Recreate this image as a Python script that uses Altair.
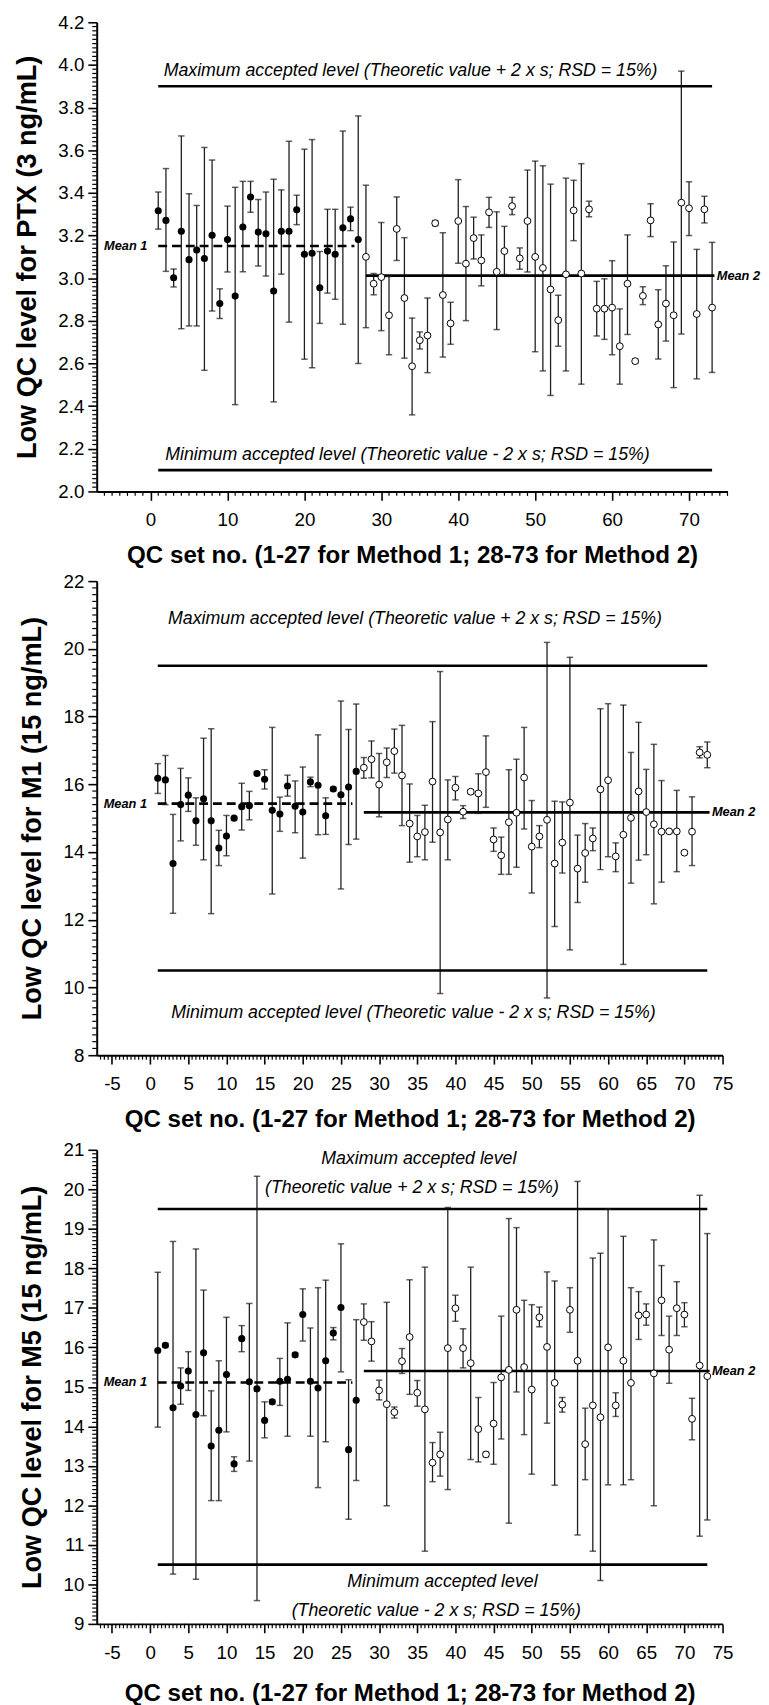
import altair as alt
import pandas as pd
import numpy as np

# ---------------- data ----------------
qc_set = list(range(1, 74))

ptx_mean = [3.316, 3.271, 3.002, 3.220, 3.087, 3.132, 3.092, 3.201, 2.881, 3.181,
            2.916, 3.240, 3.381, 3.216, 3.208, 2.940, 3.220, 3.220, 3.321, 3.112,
            3.117, 2.955, 3.127, 3.112, 3.236, 3.278, 3.181, 3.100, 2.974, 3.005,
            2.826, 3.231, 2.907, 2.587, 2.709, 2.731, 3.258, 2.921, 2.788, 3.268,
            3.068, 3.188, 3.083, 3.309, 3.030, 3.127, 3.338, 3.093, 3.268, 3.100,
            3.048, 2.947, 2.803, 3.018, 3.318, 3.022, 3.323, 2.857, 2.857, 2.862,
            2.681, 2.974, 2.611, 2.917, 3.271, 2.783, 2.881, 2.826, 3.354, 3.328,
            2.832, 3.323, 2.862]
ptx_low = [3.230, 3.032, 2.959, 2.763, 2.776, 2.776, 2.568, 2.846, 2.811, 3.029,
           2.407, 3.030, 3.309, 3.057, 3.010, 2.420, 3.019, 2.794, 3.251, 2.620,
           2.580, 2.788, 2.930, 2.901, 2.784, 3.223, 2.600, 2.768, 2.922, 2.754,
           2.641, 3.083, 2.625, 2.359, 2.668, 2.557, 3.246, 2.630, 2.690, 3.070,
           2.801, 3.090, 2.964, 3.238, 2.759, 3.017, 3.298, 3.042, 3.029, 2.655,
           2.565, 2.450, 2.681, 2.565, 3.176, 2.503, 3.288, 2.729, 2.713, 2.641,
           2.503, 2.736, 2.601, 2.876, 3.195, 2.621, 2.705, 2.487, 2.738, 3.200,
           2.528, 3.259, 2.558]
ptx_high = [3.404, 3.514, 3.043, 3.667, 3.396, 3.341, 3.613, 3.554, 2.950, 3.338,
            3.426, 3.454, 3.454, 3.369, 3.404, 3.464, 3.414, 3.642, 3.389, 3.605,
            3.650, 3.125, 3.323, 3.323, 3.690, 3.333, 3.761, 3.436, 3.022, 3.261,
            3.008, 3.381, 3.190, 2.813, 2.748, 2.907, 3.270, 3.213, 2.887, 3.462,
            3.336, 3.286, 3.203, 3.379, 3.311, 3.243, 3.379, 3.142, 3.507, 3.549,
            3.527, 3.441, 2.920, 3.469, 3.459, 3.537, 3.361, 2.985, 2.997, 3.082,
            2.856, 3.203, 2.621, 2.960, 3.349, 2.946, 3.058, 3.170, 3.971, 3.452,
            3.135, 3.384, 3.168]

m1_mean = [16.18, 16.13, 13.66, 15.40, 15.68, 14.92, 15.57, 14.92, 14.12, 14.47,
           15.00, 15.34, 15.37, 16.32, 16.15, 15.23, 15.12, 15.95, 15.35, 15.18,
           16.07, 15.97, 15.07, 15.86, 15.69, 15.92, 16.38, 16.49, 16.74, 15.99,
           16.65, 16.98, 16.26, 14.84, 14.46, 14.59, 16.08, 14.58, 14.96, 15.90,
           15.19, 15.78, 15.73, 16.36, 14.37, 13.90, 14.88, 15.16, 16.20, 14.16,
           14.46, 14.95, 13.66, 14.28, 15.46, 13.51, 13.97, 14.40, 15.85, 16.12,
           13.87, 14.51, 15.01, 15.79, 15.18, 14.82, 14.60, 14.61, 14.61, 13.98,
           14.60, 16.94, 16.87]
m1_low = [15.73, 15.40, 12.19, 14.33, 15.20, 14.20, 13.77, 12.18, 13.60, 13.89,
          14.95, 14.65, 14.95, 16.27, 15.86, 12.76, 14.61, 15.65, 14.57, 13.82,
          15.93, 14.51, 14.52, 15.81, 12.91, 14.22, 14.38, 16.18, 16.19, 15.04,
          16.20, 16.33, 14.78, 13.70, 13.86, 13.77, 14.29, 9.82, 13.77, 15.54,
          14.99, 15.72, 15.14, 15.32, 14.02, 13.34, 13.34, 13.55, 14.68, 12.79,
          14.13, 9.69, 11.80, 13.38, 11.11, 12.51, 13.11, 14.04, 13.48, 13.86,
          13.42, 10.68, 13.08, 13.76, 13.92, 12.47, 13.11, 14.56, 13.42, 13.93,
          13.60, 16.78, 16.49]
m1_high = [16.61, 16.85, 15.11, 16.47, 16.19, 15.60, 17.36, 17.64, 14.64, 15.08,
           15.05, 16.03, 15.79, 16.37, 16.43, 17.68, 15.62, 16.27, 16.10, 16.51,
           16.21, 17.46, 15.60, 15.91, 18.46, 17.62, 18.37, 16.79, 17.28, 16.91,
           17.07, 17.63, 17.74, 16.01, 15.08, 15.38, 17.85, 19.33, 16.13, 16.23,
           15.37, 15.84, 16.31, 17.43, 14.71, 14.44, 16.43, 16.74, 17.68, 15.52,
           14.78, 20.19, 15.50, 15.48, 19.75, 14.50, 14.84, 14.71, 18.23, 18.38,
           14.27, 18.34, 16.94, 17.83, 16.44, 17.18, 16.11, 14.66, 15.82, 14.03,
           15.63, 17.11, 17.25]

m5_mean = [15.92, 16.05, 14.47, 15.02, 15.40, 14.30, 15.86, 13.50, 13.90, 15.31,
           13.05, 16.22, 15.13, 14.95, 14.15, 14.62, 15.14, 15.19, 15.81, 16.83,
           15.14, 14.97, 15.66, 16.36, 17.01, 13.41, 14.66, 16.64, 16.15, 14.91,
           14.56, 14.36, 15.65, 16.26, 14.85, 14.43, 13.08, 13.29, 15.98, 16.99,
           15.98, 15.60, 13.93, 13.29, 14.07, 15.24, 15.43, 16.95, 15.50, 14.93,
           16.76, 16.01, 15.10, 14.55, 16.95, 15.66, 13.55, 14.53, 14.23, 16.00,
           14.53, 15.66, 15.10, 16.81, 16.83, 15.34, 17.19, 15.94, 16.99, 16.83,
           14.19, 15.54, 15.27]
m5_low = [13.98, 16.00, 10.26, 14.56, 14.91, 10.13, 14.27, 12.12, 12.12, 13.86,
          12.86, 15.89, 13.12, 9.59, 13.71, 14.57, 14.53, 13.75, 15.76, 16.16,
          13.75, 12.45, 13.61, 16.19, 15.38, 11.65, 12.63, 16.18, 15.65, 14.67,
          11.99, 14.21, 15.34, 14.81, 14.51, 10.84, 12.60, 12.74, 12.40, 16.66,
          15.48, 13.16, 13.10, 13.23, 13.04, 13.68, 11.55, 14.87, 13.79, 12.79,
          16.52, 14.08, 12.51, 14.36, 16.38, 11.25, 12.65, 10.84, 10.10, 12.52,
          14.25, 12.52, 12.65, 16.20, 16.56, 11.99, 16.30, 15.09, 16.30, 16.52,
          13.66, 11.22, 11.63]
m5_high = [17.90, 16.10, 18.68, 15.48, 15.89, 18.49, 17.45, 14.90, 15.66, 16.76,
           13.23, 16.55, 17.11, 20.33, 14.62, 14.67, 15.72, 16.62, 15.86, 17.48,
           16.49, 17.51, 17.70, 16.50, 18.62, 15.18, 16.70, 17.10, 16.65, 15.17,
           17.14, 14.49, 15.97, 17.71, 15.16, 18.03, 13.59, 13.85, 19.54, 17.32,
           16.47, 18.03, 14.73, 13.35, 15.11, 16.79, 19.26, 19.03, 17.19, 17.08,
           17.02, 17.91, 17.68, 14.73, 17.51, 20.20, 14.46, 18.26, 18.38, 19.50,
           14.85, 18.81, 17.51, 17.41, 17.10, 18.72, 18.07, 16.79, 17.66, 17.13,
           14.71, 19.85, 18.88]

# means of each method and accepted limits (theoretic value +/- 30 %)
ptx_means = [3.151, 3.012]
m1_means = [15.43, 15.17]
m5_means = [15.11, 15.40]
ptx_limits = [3.9, 2.1]
m1_limits = [19.5, 10.5]
m5_limits = [19.5, 10.5]

MAX_TXT = "Maximum accepted level (Theoretic value + 2 x s; RSD = 15%)"
MIN_TXT = "Minimum accepted level (Theoretic value - 2 x s; RSD = 15%)"
X_TITLE = "QC set no. (1-27 for Method 1; 28-73 for Method 2)"

FONT = "Liberation Sans"
ERR = "#1e1e1e"


def panel(mean, low, high, means, limits, ydom, ymaj, ydec, yminor, xmaj, xminor,
          ytitle, notes, W, H, xtitle_pad=14):
    df = pd.DataFrame({"n": qc_set, "v": mean, "lo": low, "hi": high})
    df["method"] = np.where(df["n"] <= 27, "Method 1", "Method 2")
    xs = alt.Scale(domain=[-7, 75], nice=False, zero=False)
    ys = alt.Scale(domain=ydom, nice=False, zero=False)
    base = alt.Chart(df)

    xax = alt.Axis(values=xmaj, title=X_TITLE,
                   labelExpr="datum.value < 0 ? '-' + abs(datum.value) : '' + datum.value",
                   labelFlush=False, labelOverlap=False, labelPadding=11,
                   titlePadding=xtitle_pad, titleFontSize=24.5, tickSize=9)
    yax = alt.Axis(values=ymaj, title=ytitle,
                   labelExpr="format(datum.value, '.%df')" % ydec,
                   labelPadding=4, titlePadding=17, titleFontSize=27.5, tickSize=9,
                   labelOverlap=False)

    def X(f):
        return alt.X(f, scale=xs, axis=xax)

    def Y(f):
        return alt.Y(f, scale=ys, axis=yax)

    bars = base.mark_rule(color=ERR, strokeWidth=1.3).encode(
        x=X("n:Q"), y=Y("lo:Q"), y2="hi:Q")
    cap_lo = base.mark_tick(orient="horizontal", color=ERR, size=6.5, thickness=1.5).encode(
        x=X("n:Q"), y=Y("lo:Q"))
    cap_hi = base.mark_tick(orient="horizontal", color=ERR, size=6.5, thickness=1.5).encode(
        x=X("n:Q"), y=Y("hi:Q"))

    filled = base.transform_filter(alt.datum.method == "Method 1").mark_point(
        shape="circle", filled=True, color="black", size=52, opacity=1).encode(
        x=X("n:Q"), y=Y("v:Q"))
    hollow = base.transform_filter(alt.datum.method == "Method 2").mark_point(
        shape="circle", filled=True, fill="white", stroke="black", strokeWidth=1,
        size=48, opacity=1).encode(x=X("n:Q"), y=Y("v:Q"))

    lim_df = pd.DataFrame({"a": [1, 1], "b": [73, 73], "y": limits})
    lim = alt.Chart(lim_df).mark_rule(color="black", strokeWidth=2.6).encode(
        x=X("a:Q"), x2="b:Q", y=Y("y:Q"))

    m1_df = pd.DataFrame({"a": [1], "b": [26.5], "y": [means[0]]})
    m2_df = pd.DataFrame({"a": [28], "b": [73.3], "y": [means[1]]})
    mean1 = alt.Chart(m1_df).mark_rule(color="black", strokeWidth=2.6, strokeDash=[9, 5]).encode(
        x=X("a:Q"), x2="b:Q", y=Y("y:Q"))
    mean2 = alt.Chart(m2_df).mark_rule(color="black", strokeWidth=2.6).encode(
        x=X("a:Q"), x2="b:Q", y=Y("y:Q"))

    lab1 = alt.Chart(pd.DataFrame({"x": [-0.4], "y": [means[0]], "t": ["Mean 1"]})).mark_text(
        align="right", baseline="middle", font=FONT, fontSize=13, fontStyle="italic",
        fontWeight="bold", color="black").encode(x=X("x:Q"), y=Y("y:Q"), text="t:N")
    lab2 = alt.Chart(pd.DataFrame({"x": [73.6], "y": [means[1]], "t": ["Mean 2"]})).mark_text(
        align="left", baseline="middle", font=FONT, fontSize=13, fontStyle="italic",
        fontWeight="bold", color="black").encode(x=X("x:Q"), y=Y("y:Q"), text="t:N")

    note_df = pd.DataFrame(notes, columns=["x", "y", "t"])
    note = alt.Chart(note_df).mark_text(
        align="center", baseline="middle", font=FONT, fontSize=18, fontStyle="italic",
        color="black").encode(x=X("x:Q"), y=Y("y:Q"), text="t:N")

    xmin_rule = alt.Chart(pd.DataFrame({"mx": xminor})).mark_rule(
        color="black", strokeWidth=1.2).encode(
        x=X("mx:Q"), y=alt.value(H), y2=alt.value(H + 4.5))
    ymin_rule = alt.Chart(pd.DataFrame({"my": yminor})).mark_rule(
        color="black", strokeWidth=1.2).encode(
        y=Y("my:Q"), x=alt.value(0), x2=alt.value(-4.5))

    return alt.layer(bars, xmin_rule, ymin_rule, lim, mean1, mean2, cap_lo, cap_hi,
                     filled, hollow, lab1, lab2, note).properties(width=W, height=H)


# tick positions
x_major_1 = list(range(0, 71, 10))
x_minor_1 = [v for v in range(-6, 76) if not (v % 10 == 0 and 0 <= v <= 70)]
x_major_2 = list(range(-5, 76, 5))
x_minor_2 = [i / 2 for i in range(-13, 151) if i % 10 != 0]

y_major_1 = [round(2.0 + 0.2 * i, 1) for i in range(12)]
y_minor_1 = [round(2.0 + 0.02 * i, 2) for i in range(111) if i % 10 != 0]
y_major_2 = list(range(8, 23, 2))
y_minor_2 = [round(8 + 0.2 * i, 1) for i in range(71) if i % 10 != 0]
y_major_3 = list(range(9, 22))
y_minor_3 = [round(9 + 0.1 * i, 1) for i in range(121) if i % 10 != 0]

p1 = panel(ptx_mean, ptx_low, ptx_high, ptx_means, ptx_limits, [2.0, 4.2], y_major_1, 1,
           y_minor_1, x_major_1, x_minor_1, "Low QC level for PTX (3 ng/mL)",
           [(33.8, 3.97, MAX_TXT), (33.4, 2.17, MIN_TXT)], 640, 476)
p2 = panel(m1_mean, m1_low, m1_high, m1_means, m1_limits, [8, 22], y_major_2, 0,
           y_minor_2, x_major_2, x_minor_2, "Low QC level for M1 (15 ng/mL)",
           [(34.7, 20.89, MAX_TXT), (34.5, 9.25, MIN_TXT)], 635, 481)
p3 = panel(m5_mean, m5_low, m5_high, m5_means, m5_limits, [9, 21], y_major_3, 0,
           y_minor_3, x_major_2, x_minor_2, "Low QC level for M5 (15 ng/mL)",
           [(35.2, 20.77, "Maximum accepted level"),
            (34.3, 20.04, "(Theoretic value + 2 x s; RSD = 15%)"),
            (38.3, 10.05, "Minimum accepted level"),
            (37.5, 9.32, "(Theoretic value - 2 x s; RSD = 15%)")], 635, 481, xtitle_pad=20)

top_pair = alt.vconcat(p1, p2, spacing=5)
chart = alt.vconcat(top_pair, p3, spacing=10).properties(
    padding={"left": 5, "top": -7, "right": 0, "bottom": 0}
).configure_view(stroke=None).configure_axis(
    grid=False, domainColor="black", domainWidth=2, tickColor="black", tickWidth=1.6,
    labelFont=FONT, labelFontSize=19, labelColor="black",
    titleFont=FONT, titleFontWeight="bold", titleColor="black",
)

chart.save("out.html", embed_options={"renderer": "svg", "actions": False})
